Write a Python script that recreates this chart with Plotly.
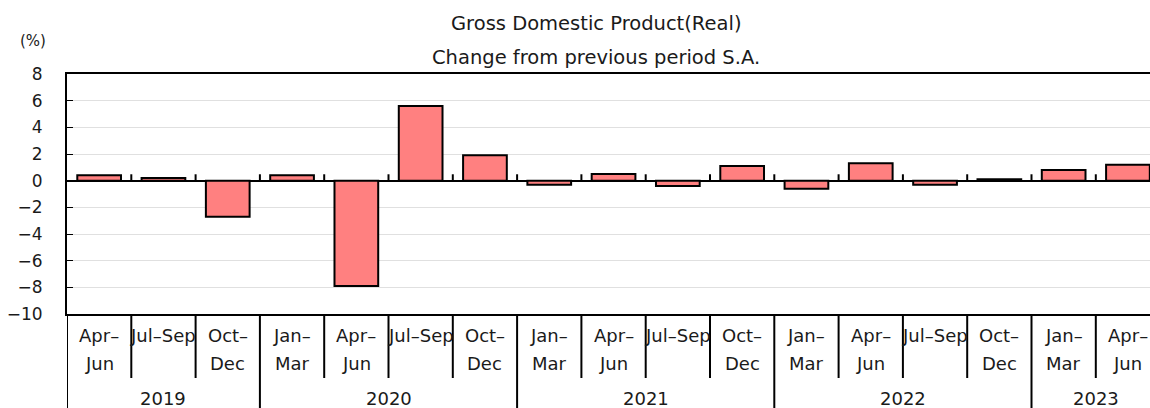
import plotly.graph_objects as go

# ---- data ----
quarters = ["Apr–\nJun", "Jul–Sep", "Oct–\nDec",
            "Jan–\nMar", "Apr–\nJun", "Jul–Sep", "Oct–\nDec",
            "Jan–\nMar", "Apr–\nJun", "Jul–Sep", "Oct–\nDec",
            "Jan–\nMar", "Apr–\nJun", "Jul–Sep", "Oct–\nDec",
            "Jan–\nMar", "Apr–\nJun"]
years = ["2019", "2019", "2019",
         "2020", "2020", "2020", "2020",
         "2021", "2021", "2021", "2021",
         "2022", "2022", "2022", "2022",
         "2023", "2023"]
values = [0.4, 0.2, -2.7,
          0.4, -7.9, 5.6, 1.9,
          -0.3, 0.5, -0.4, 1.1,
          -0.6, 1.3, -0.3, 0.1,
          0.8, 1.2]
y_ticks = [-10, -8, -6, -4, -2, 0, 2, 4, 6, 8]
title_lines = ["Gross Domestic Product(Real)", "Change from previous period S.A."]
unit_label = "(%)"

# ---- layout constants (page pixels) ----
W, H = 1150, 408
ML, MR, MT, MB = 67, 0, 74, 94
PH = H - MT - MB
PW = W - ML - MR
CAT_PX = 64.3          # pixel width of one category; the last one runs past the edge
FONT = "DejaVu Sans"
TXT = "#1a1a1a"
FS = 18
LW = 2


def py(y_page):
    """page pixel y -> paper y"""
    return (H - MB - y_page) / PH


def px(x_page):
    return (x_page - ML) / PW


cats = [f"{y} {q}" for y, q in zip(years, quarters)]
n = len(cats)
x_right = -0.5 + PW / CAT_PX

fig = go.Figure()
fig.add_trace(go.Bar(
    x=cats, y=values,
    marker=dict(color="#FF8080", line=dict(color="#000000", width=LW)),
    hoverinfo="y",
))

shapes = []
annotations = []

# small tick marks on the zero line at category boundaries
for i in range(n - 1):
    b = i + 0.5
    shapes.append(dict(type="line", xref="x", yref="y", x0=b, x1=b, y0=0, y1=0.48,
                       line=dict(color="#000", width=LW), layer="above"))

# category axis box lines
for i in range(n):
    b = i - 0.5
    year_boundary = (i == 0) or (years[i] != years[i - 1])
    shapes.append(dict(type="line", xref="x", yref="paper", x0=b, x1=b,
                       y0=0, y1=py(410) if year_boundary else py(378),
                       line=dict(color="#000", width=LW)))

# quarter labels
for i, q in enumerate(quarters):
    lines = q.split("\n")
    annotations.append(dict(x=cats[i], xref="x", y=py(335), yref="paper",
                            text=lines[0], showarrow=False, yanchor="middle",
                            xanchor="center",
                            font=dict(family=FONT, size=FS, color=TXT)))
    if len(lines) > 1:
        annotations.append(dict(x=cats[i], xref="x", y=py(363), yref="paper",
                                text=lines[1], showarrow=False, yanchor="middle",
                                xanchor="center",
                                font=dict(family=FONT, size=FS, color=TXT)))

# year labels centred on their groups
groups = []
for i, yv in enumerate(years):
    if groups and groups[-1][0] == yv:
        groups[-1][2] = i
    else:
        groups.append([yv, i, i])
for yv, a, b in groups:
    annotations.append(dict(x=(a + b) / 2, xref="x", y=py(398), yref="paper",
                            text=yv, showarrow=False, yanchor="middle",
                            xanchor="center",
                            font=dict(family=FONT, size=FS, color=TXT)))

# title lines
annotations.append(dict(x=px(596), xref="paper", y=py(23), yref="paper",
                        text=title_lines[0], showarrow=False, yanchor="middle",
                        xanchor="center",
                        font=dict(family=FONT, size=19.5, color=TXT)))
annotations.append(dict(x=px(596), xref="paper", y=py(57), yref="paper",
                        text=title_lines[1], showarrow=False, yanchor="middle",
                        xanchor="center",
                        font=dict(family=FONT, size=19.5, color=TXT)))
annotations.append(dict(x=px(32.5), xref="paper", y=py(41), yref="paper",
                        text=unit_label, showarrow=False, yanchor="middle",
                        xanchor="center",
                        font=dict(family=FONT, size=15, color=TXT)))

fig.update_layout(
    width=W, height=H,
    margin=dict(l=ML, r=MR, t=MT, b=MB, autoexpand=False),
    paper_bgcolor="white", plot_bgcolor="white",
    showlegend=False,
    bargap=0.32,
    shapes=shapes,
    annotations=annotations,
    font=dict(family=FONT, color=TXT),
)
fig.update_xaxes(
    type="category", range=[-0.5, x_right],
    showticklabels=False, ticks="", showgrid=False,
    showline=True, linecolor="#000", linewidth=LW, mirror=True,
    fixedrange=True,
)
fig.update_yaxes(
    range=[-10, 8], tickvals=y_ticks, ticktext=[f"{v:g}".replace("-", "−") for v in y_ticks],
    showgrid=True, gridcolor="#e0e0e0", gridwidth=1,
    zeroline=True, zerolinecolor="#000", zerolinewidth=LW,
    showline=True, linecolor="#000", linewidth=LW,
    ticks="inside", ticklen=6, tickcolor="#000", tickwidth=1,
    ticklabelstandoff=19, automargin=False,
    tickfont=dict(family=FONT, size=17, color=TXT),
    fixedrange=True,
)

fig.write_html(
    "out.html",
    config={"displayModeBar": False, "staticPlot": True},
    post_script="document.body.style.margin='0';document.body.style.overflow='hidden';",
)
